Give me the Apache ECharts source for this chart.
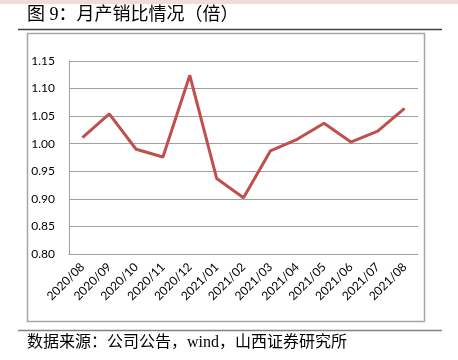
<!DOCTYPE html>
<html>
<head>
<meta charset="utf-8">
<script src="https://cdn.jsdelivr.net/npm/echarts@6/dist/echarts.min.js"></script>
<style>html,body{margin:0;padding:0;background:#fff;}#c{width:458px;height:360px;}</style>
</head>
<body>
<div id="c"></div>
<script>
var categories = ['2020/08','2020/09','2020/10','2020/11','2020/12','2021/01','2021/02','2021/03','2021/04','2021/05','2021/06','2021/07','2021/08'];
var ratioValues = [1.011, 1.054, 0.990, 0.976, 1.124, 0.937, 0.902, 0.987, 1.008, 1.037, 1.003, 1.023, 1.064];
var titleText = '图 9：月产销比情况（倍）';
var sourceText = '数据来源：公司公告，wind，山西证券研究所';

var chart = echarts.init(document.getElementById('c'));
chart.setOption({
  animation: false,
  backgroundColor: '#fff',
  graphic: [
    {type:'rect', shape:{x:0,y:0,width:458,height:4}, style:{fill:'#f2dcdb'}},
    {type:'text', left:27, top:6, style:{text:titleText, font:'18px "Liberation Serif", "Noto Sans CJK SC"', fill:'#000'}},
    {type:'line', shape:{x1:18,y1:29.5,x2:442,y2:29.5}, style:{stroke:'#404040', lineWidth:1.5}},
    {type:'rect', shape:{x:27.5,y:33.5,width:397,height:288}, style:{fill:'none', stroke:'#a6a6a6', lineWidth:1.5}},
    {type:'line', shape:{x1:18,y1:330.5,x2:442,y2:330.5}, style:{stroke:'#808080', lineWidth:1.5}},
    {type:'text', left:27, top:335, style:{text:sourceText, font:'16px "Liberation Serif", "Noto Sans CJK SC"', fill:'#000'}}
  ],
  grid: {left:69, right:40, top:61, bottom:106, containLabel:false},
  xAxis: {
    type:'category', data:categories, boundaryGap:true,
    axisLine:{show:true, lineStyle:{color:'#a0a0a0', width:1}},
    axisTick:{show:false},
    axisLabel:{rotate:45, interval:0, fontSize:12, color:'#000', fontFamily:'Lato', margin:11}
  },
  yAxis: {
    type:'value', min:0.8, max:1.15, interval:0.05,
    axisLine:{show:true, lineStyle:{color:'#a0a0a0', width:1}},
    axisTick:{show:false},
    splitLine:{lineStyle:{color:'#a0a0a0', width:1}},
    axisLabel:{fontSize:12, color:'#000', fontFamily:'Lato', margin:14, formatter:function(v){return v.toFixed(2);}}
  },
  series: [{
    type:'line', data:ratioValues, symbol:'none',
    lineStyle:{color:'#c0504d', width:3}
  }]
});
</script>
</body>
</html>
